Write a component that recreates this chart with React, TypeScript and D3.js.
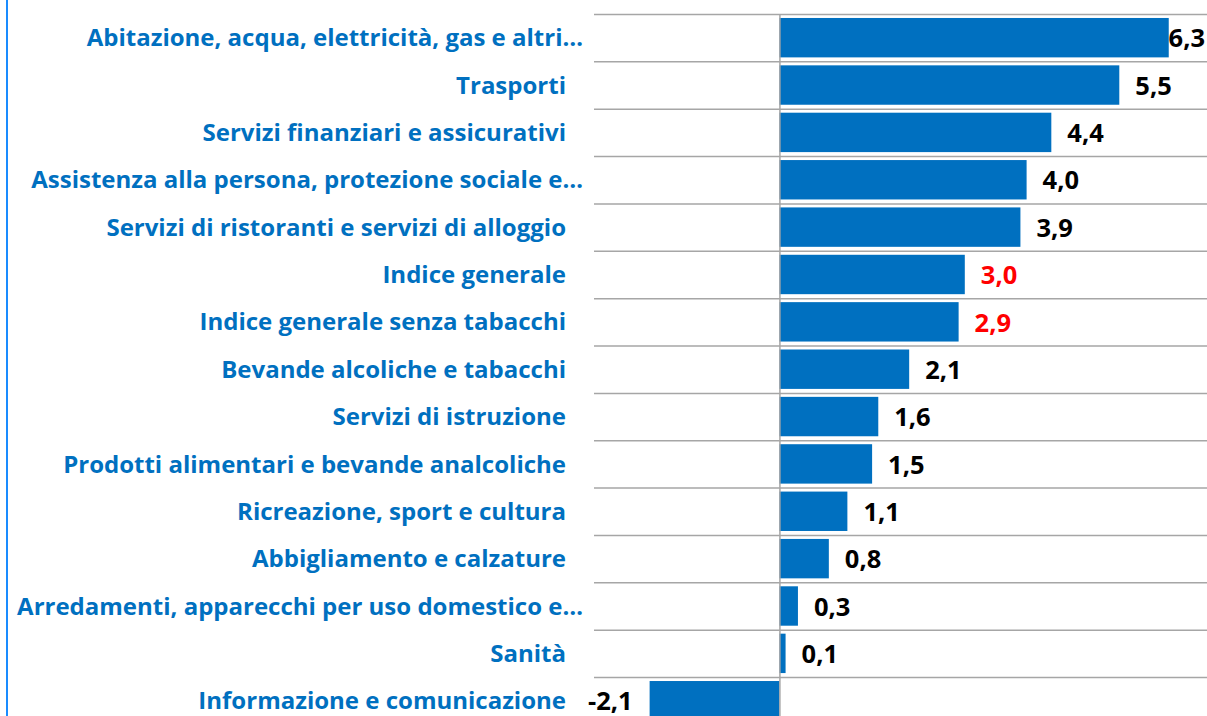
import { useRef, useEffect } from "react";
import * as d3 from "d3";

const categories = [
  "Abitazione, acqua, elettricità, gas e altri…",
  "Trasporti",
  "Servizi finanziari e assicurativi",
  "Assistenza alla persona, protezione sociale e…",
  "Servizi di ristoranti e servizi di alloggio",
  "Indice generale",
  "Indice generale senza tabacchi",
  "Bevande alcoliche e tabacchi",
  "Servizi di istruzione",
  "Prodotti alimentari e bevande analcoliche",
  "Ricreazione, sport e cultura",
  "Abbigliamento e calzature",
  "Arredamenti, apparecchi per uso domestico e…",
  "Sanità",
  "Informazione e comunicazione",
];
const values = [6.3, 5.5, 4.4, 4.0, 3.9, 3.0, 2.9, 2.1, 1.6, 1.5, 1.1, 0.8, 0.3, 0.1, -2.1];
const highlighted = ["Indice generale", "Indice generale senza tabacchi"];
const xDomain = [-3, 7];

const W = 1207;
const H = 716;
const FONT = "'Open Sans', 'Noto Sans', sans-serif";
const BLUE = "#0070C0";

const App = () => {
  const ref = useRef<SVGSVGElement>(null);

  useEffect(() => {
    const svg = d3.select(ref.current);
    svg.selectAll("*").remove();

    const x = d3.scaleLinear().domain(xDomain).range([594, 1212]);
    const y = d3.scaleBand()
      .domain(categories)
      .range([14, 14 + 15 * 47.36])
      .paddingInner(0.168)
      .paddingOuter(0.084);
    const step = y.step();
    const data = categories.map((c, i) => ({ name: c, value: values[i] }));

    // left border line
    svg.append("line")
      .attr("x1", 7).attr("x2", 7).attr("y1", 0).attr("y2", H)
      .attr("stroke", "#1a8cff").attr("stroke-width", 2);

    // row separators
    svg.selectAll("line.grid")
      .data(d3.range(categories.length + 1))
      .enter().append("line")
      .attr("class", "grid")
      .attr("x1", x.range()[0]).attr("x2", W)
      .attr("y1", i => 14 + i * step + 0.5)
      .attr("y2", i => 14 + i * step + 0.5)
      .attr("stroke", "#a6a6a6").attr("stroke-width", 1.5);

    svg.selectAll("rect.bar")
      .data(data)
      .enter().append("rect")
      .attr("class", "bar")
      .attr("x", d => x(Math.min(0, d.value)))
      .attr("width", d => Math.abs(x(d.value) - x(0)))
      .attr("y", d => y(d.name)!)
      .attr("height", y.bandwidth())
      .attr("fill", BLUE);

    // zero axis
    svg.append("line")
      .attr("x1", x(0) + 0.5).attr("x2", x(0) + 0.5)
      .attr("y1", 14).attr("y2", H)
      .attr("stroke", "#a6a6a6").attr("stroke-width", 1.5);

    // category labels
    svg.selectAll("text.cat")
      .data(data)
      .enter().append("text")
      .attr("class", "cat")
      .attr("x", d => (d.name.endsWith("…") ? 583 : 566))
      .attr("y", d => y(d.name)! + y.bandwidth() / 2)
      .attr("dy", "0.36em")
      .attr("text-anchor", "end")
      .attr("font-family", FONT)
      .attr("font-weight", "bold")
      .attr("font-size", 24)
      .attr("fill", BLUE)
      .text(d => d.name);

    // value labels
    const fmt = (v: number) => v.toFixed(1).replace(".", ",");
    svg.selectAll("text.val")
      .data(data)
      .enter().append("text")
      .attr("class", "val")
      .attr("y", d => y(d.name)! + y.bandwidth() / 2 + 0.5)
      .attr("dy", "0.36em")
      .attr("font-family", FONT)
      .attr("font-weight", "bold")
      .attr("font-size", 25.5)
      .attr("fill", d => (highlighted.includes(d.name) ? "#FF0000" : "#000"))
      .attr("text-anchor", d => (d.value < 0 ? "end" : "start"))
      .text(d => fmt(d.value))
      .each(function (d) {
        const t = this as SVGTextElement;
        const w = t.getComputedTextLength();
        const px = d.value < 0 ? x(d.value) - 17 : Math.min(x(d.value) + 16, W - 2 - w);
        d3.select(t).attr("x", px);
      });
  }, []);

  return (
    <>
      <style>{`body{margin:0}`}</style>
      <svg ref={ref} width={W} height={H} style={{ display: "block", background: "#fff" }} />
    </>
  );
};

export default App;
